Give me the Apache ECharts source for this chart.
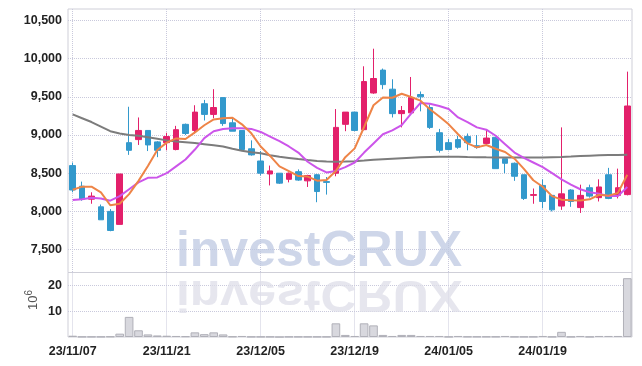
<!DOCTYPE html>
<html>
<head>
<meta charset="utf-8">
<script src="https://cdn.jsdelivr.net/npm/echarts@6/dist/echarts.min.js"></script>
<style>
  html, body { margin: 0; padding: 0; background: #fff; }
  #chart { width: 642px; height: 366px; }
</style>
</head>
<body>
<div id="chart"></div>
<script>
// 거래일
const dates = [
  '23/11/07','23/11/08','23/11/09','23/11/10','23/11/13','23/11/14','23/11/15','23/11/16','23/11/17','23/11/20',
  '23/11/21','23/11/22','23/11/23','23/11/24','23/11/27','23/11/28','23/11/29','23/11/30','23/12/01','23/12/04',
  '23/12/05','23/12/06','23/12/07','23/12/08','23/12/11','23/12/12','23/12/13','23/12/14','23/12/15','23/12/18',
  '23/12/19','23/12/20','23/12/21','23/12/22','23/12/26','23/12/27','23/12/28','24/01/02','24/01/03','24/01/04',
  '24/01/05','24/01/08','24/01/09','24/01/10','24/01/11','24/01/12','24/01/15','24/01/16','24/01/17','24/01/18',
  '24/01/19','24/01/22','24/01/23','24/01/24','24/01/25','24/01/26','24/01/29','24/01/30','24/01/31','24/02/01'
];

const openP = [
  8600, 8330, 8160, 8060, 8000, 7830, 8900, 8940, 9060, 8910,
  8900, 8810, 9140, 9060, 9410, 9270, 9490, 9160, 9060, 8820,
  8660, 8490, 8500, 8420, 8520, 8400, 8480, 8390, 8500, 9140,
  9300, 9070, 9550, 9850, 9600, 9280, 9290, 9530, 9360, 9030,
  8900, 8940, 8980, 8860, 8890, 8970, 8690, 8630, 8480, 8210,
  8340, 8210, 8070, 8280, 8050, 8310, 8180, 8480, 8210, 8220
];
const closeP = [
  8280, 8160, 8200, 7890, 7750, 8490, 8800, 9060, 8870, 8800,
  8980, 9070, 9020, 9300, 9270, 9360, 9150, 9050, 8810, 8740,
  8500, 8530, 8370, 8500, 8410, 8470, 8260, 8380, 9100, 9300,
  9060, 9700, 9740, 9660, 9280, 9320, 9490, 9500, 9100, 8800,
  8810, 8840, 8900, 8840, 8960, 8560, 8630, 8460, 8170, 8220,
  8130, 8020, 8230, 8130, 8210, 8200, 8320, 8170, 8310, 9380
];
const lowP = [
  8250, 8140, 8100, 7890, 7740, 7830, 8740, 8870, 8790, 8710,
  8800, 8800, 9000, 9020, 9190, 9220, 9120, 9050, 8810, 8730,
  8470, 8340, 8360, 8380, 8400, 8320, 8120, 8220, 8460, 9050,
  9050, 9060, 9540, 9600, 9230, 9100, 9280, 9310, 9080, 8770,
  8800, 8820, 8800, 8820, 8880, 8560, 8500, 8400, 8150, 8100,
  8040, 8000, 8020, 8060, 7980, 8180, 8130, 8160, 8170, 8210
];
const highP = [
  8640, 8390, 8250, 8090, 8030, 8490, 9370, 9230, 9060, 8920,
  9030, 9120, 9150, 9390, 9460, 9600, 9490, 9220, 9060, 8930,
  8790, 8600, 8500, 8510, 8550, 8480, 8490, 8450, 9340, 9300,
  9300, 9900, 10130, 9870, 9730, 9380, 9760, 9570, 9400, 9080,
  8950, 8990, 9020, 9000, 9070, 8970, 8690, 8640, 8480, 8300,
  8420, 8210, 9100, 8290, 8350, 8350, 8420, 8570, 8560, 9830
];

// 이동평균
const ma5 = [
  8284, 8324, 8324, 8250, 8080, 8100, 8226, 8400, 8594, 8804,
  8900, 8956, 8948, 9034, 9128, 9204, 9220, 9226, 9140, 9022,
  8850, 8726, 8590, 8528, 8462, 8456, 8402, 8410, 8530, 8710,
  8825, 9105, 9390, 9492, 9488, 9540, 9498, 9450, 9338, 9242,
  9140, 9010, 8890, 8838, 8870, 8820, 8778, 8690, 8556, 8408,
  8322, 8200, 8154, 8146, 8144, 8158, 8218, 8206, 8242, 8480
];
const ma20 = [
  8150, 8160, 8180, 8170, 8140, 8200, 8290, 8380, 8440, 8445,
  8500, 8590, 8680, 8810, 8960, 9050, 9080, 9090, 9090, 9080,
  9040, 8980, 8920, 8850, 8770, 8650, 8570, 8510, 8530, 8580,
  8640, 8770, 8890, 9010, 9060, 9130, 9280, 9420, 9410, 9380,
  9340, 9230, 9170, 9100, 9070, 8990, 8880, 8770, 8700, 8640,
  8580, 8500, 8420, 8350, 8290, 8250, 8230, 8200, 8200, 8320
];
const ma60 = [
  9270, 9220, 9170, 9110, 9050, 9020, 9000, 8990, 8970, 8950,
  8930, 8915, 8905, 8895, 8880, 8865, 8850, 8820, 8795, 8775,
  8760, 8735, 8715, 8700, 8685, 8672, 8660, 8652, 8650, 8652,
  8656, 8665, 8675, 8683, 8690, 8697, 8703, 8708, 8713, 8716,
  8717, 8715, 8712, 8710, 8708, 8707, 8707, 8707, 8707, 8706,
  8706, 8710, 8713, 8718, 8724, 8730, 8734, 8737, 8740, 8743
];

// 거래량 (백만주)
const volume = [
  0.5, 0.1, 0.1, 0.1, 0.2, 1.3, 7.8, 2.6, 1.0, 0.6,
  0.5, 0.4, 0.3, 1.8, 1.1, 1.8, 1.0, 0.2, 0.4, 0.1,
  0.1, 0.1, 0.0, 0.1, 0.1, 0.1, 0.1, 0.1, 5.3, 0.8,
  0.4, 5.3, 4.5, 0.8, 0.4, 0.8, 0.8, 0.4, 0.4, 0.4,
  0.1, 0.4, 0.15, 0.15, 0.15, 0.15, 0.4, 0.1, 0.1, 0.1,
  0.4, 0.1, 2.0, 0.1, 0.4, 0.1, 0.4, 0.4, 0.4, 22.8
];

const priceTicks = [7500, 8000, 8500, 9000, 9500, 10000, 10500];
const volTicks = [10, 20];

const UP = '#e3206b';
const DOWN = '#3399cc';
const GRID_LINE = '#c9c9dc';
const FONT = "'Liberation Sans', Arial, sans-serif";

const candles = dates.map((d, i) => [openP[i], closeP[i], lowP[i], highP[i]]);

const chart = echarts.init(document.getElementById('chart'), null, { renderer: 'canvas' });

const labelStyle = { color: '#222', fontSize: 12.5, fontWeight: 'bold', fontFamily: FONT };

const option = {
  animation: false,
  backgroundColor: '#fff',
  grid: [
    { left: 68, right: 10, top: 9, height: 263.5, show: true, borderColor: '#cfcfd8', borderWidth: 1 },
    { left: 68, right: 10, top: 272.5, height: 64.5, show: true, borderColor: '#cfcfd8', borderWidth: 1 }
  ],
  graphic: [
    {
      type: 'text', z: 1, silent: true,
      x: 319, y: 252,
      style: {
        text: 'investCRUX', fill: 'rgba(190,200,226,0.75)',
        font: "bold 50px 'Liberation Sans', sans-serif",
        align: 'center', verticalAlign: 'middle'
      }
    },
    {
      type: 'text', z: 1, silent: true,
      x: 319, y: 293, scaleY: -0.9,
      style: {
        text: 'investCRUX', fill: 'rgba(222,222,232,0.75)',
        font: "bold 50px 'Liberation Sans', sans-serif",
        align: 'center', verticalAlign: 'middle'
      }
    },
    {
      type: 'text', silent: true,
      x: 33, y: 300, rotation: Math.PI / 2,
      style: {
        text: '10{s|6}', fill: '#555',
        font: "13px " + FONT,
        align: 'center', verticalAlign: 'middle',
        rich: { s: { fontSize: 10, verticalAlign: 'top', padding: [0, 0, 8, 0], fill: '#555' } }
      }
    }
  ],
  xAxis: [
    {
      type: 'category', gridIndex: 0, data: dates, boundaryGap: true,
      axisLine: { show: false }, axisTick: { show: false }, axisLabel: { show: false },
      splitLine: { show: true, interval: 9, alignWithLabel: true, lineStyle: { color: GRID_LINE, type: 'dotted' } }
    },
    {
      type: 'category', gridIndex: 1, data: dates, boundaryGap: true,
      axisLine: { show: false }, axisTick: { show: false },
      axisLabel: Object.assign({ interval: 9, margin: 8 }, labelStyle),
      splitLine: { show: true, interval: 9, alignWithLabel: true, lineStyle: { color: GRID_LINE, type: 'dotted' } }
    }
  ],
  yAxis: [
    {
      type: 'value', gridIndex: 0, min: 7200, max: 10650, scale: true,
      axisLine: { show: false },
      axisTick: { show: false, customValues: priceTicks },
      axisLabel: Object.assign({
        customValues: priceTicks, margin: 6,
        formatter: v => Number(v).toLocaleString('en-US')
      }, labelStyle),
      splitLine: { show: true, lineStyle: { color: GRID_LINE, type: 'dotted' } }
    },
    {
      type: 'value', gridIndex: 1, min: 0, max: 25,
      axisLine: { show: false },
      axisTick: { show: false, customValues: volTicks },
      axisLabel: Object.assign({ customValues: volTicks, margin: 6 }, labelStyle),
      splitLine: { show: true, lineStyle: { color: GRID_LINE, type: 'dotted' } }
    }
  ],
  series: [
    {
      name: 'price', type: 'candlestick', xAxisIndex: 0, yAxisIndex: 0,
      data: candles, barWidth: 6, z: 3,
      itemStyle: { color: UP, color0: DOWN, borderColor: UP, borderColor0: DOWN, borderWidth: 1 }
    },
    {
      name: 'MA60', type: 'line', xAxisIndex: 0, yAxisIndex: 0, data: ma60,
      symbol: 'none', z: 4, lineStyle: { color: '#7c7c7c', width: 2 }
    },
    {
      name: 'MA20', type: 'line', xAxisIndex: 0, yAxisIndex: 0, data: ma20,
      symbol: 'none', z: 4, lineStyle: { color: '#cc55ea', width: 2 }
    },
    {
      name: 'MA5', type: 'line', xAxisIndex: 0, yAxisIndex: 0, data: ma5,
      symbol: 'none', z: 4, lineStyle: { color: '#ee8447', width: 2 }
    },
    {
      name: 'volume', type: 'bar', xAxisIndex: 1, yAxisIndex: 1, data: volume,
      barWidth: '92%', z: 3,
      itemStyle: { color: '#d8d8de', borderColor: '#b0b0b8', borderWidth: 1 }
    }
  ]
};

chart.setOption(option);
</script>
</body>
</html>
